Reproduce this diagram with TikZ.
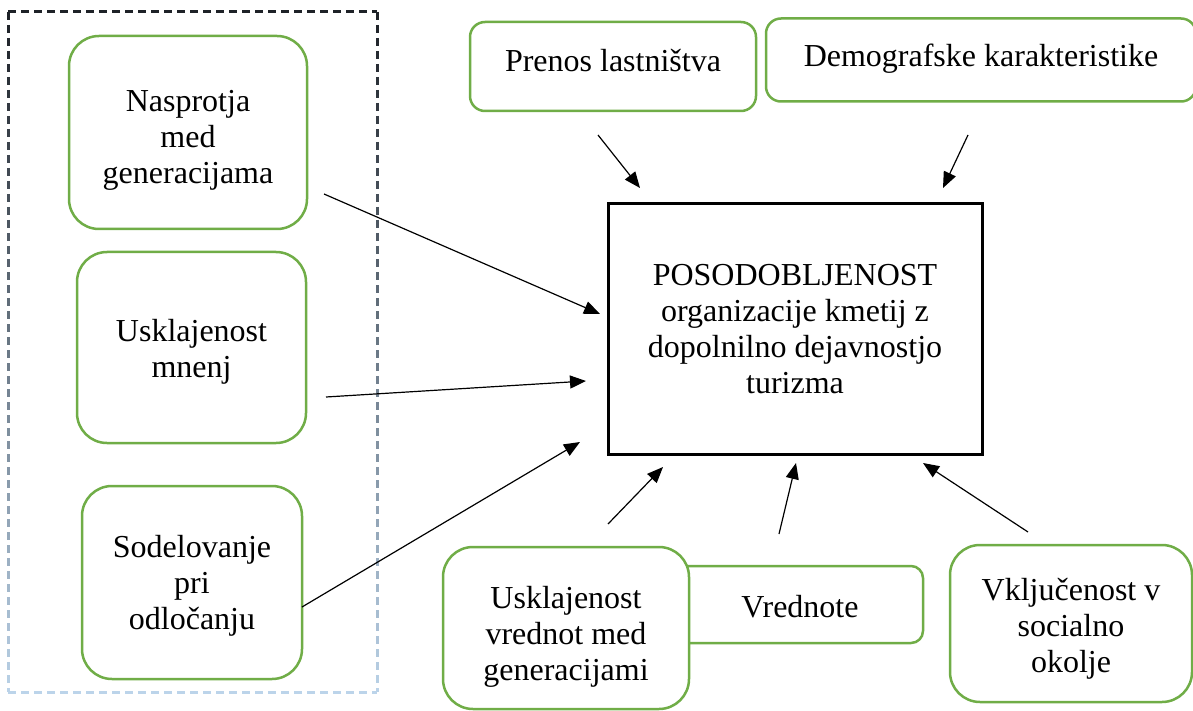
\documentclass[tikz,border=0pt]{standalone}
\usepackage{fontspec}
\setmainfont{Liberation Serif}
\usetikzlibrary{arrows.meta}
\definecolor{boxgreen}{RGB}{112,173,71}
\definecolor{framedark}{RGB}{30,34,40}
\definecolor{framelight}{RGB}{188,212,234}
\newcommand{\tstrut}[1]{\rule{0pt}{#1}}
\begin{document}
\begin{tikzpicture}[x=1pt,y=-1pt,
  txt/.style={font=\fontsize{32}{36}\selectfont},
  gbox/.style={txt, draw=boxgreen, line width=2.5pt, fill=white, align=center, inner sep=0pt},
  cbox/.style={txt, draw=black, line width=3pt, fill=white, align=center, inner sep=0pt},
  arr/.style={line width=1.2pt, -{Triangle[length=16pt,width=13pt]}},
  frameseg/.style={line width=3pt, line cap=butt}]
\useasboundingbox (0,0) rectangle (1193,711);

% dashed frame with gradient
\draw[frameseg, draw=framedark, dash pattern=on 8pt off 5pt] (8,12) -- (377,12);
\draw[frameseg, draw=framelight, dash pattern=on 8pt off 5pt] (8,692) -- (377,692);
\foreach \i in {0,...,52}{
  \pgfmathsetmacro{\ya}{12+13*\i}
  \pgfmathsetmacro{\yb}{min(\ya+8,692)}
  \pgfmathtruncatemacro{\p}{(\ya-12)/6.8}
  \draw[frameseg, draw=framelight!\p!framedark] (8,\ya) -- (8,\yb);
  \draw[frameseg, draw=framelight!\p!framedark] (377,\ya) -- (377,\yb);
}

% left boxes
\node[gbox, rounded corners=30pt, minimum width=238pt, minimum height=193pt] (nasp) at (188,132.5) {\tstrut{36pt}Nasprotja\\med\\generacijama};
\node[gbox, rounded corners=30pt, minimum width=229pt, minimum height=191pt] (uskm) at (191.5,347.5) {\tstrut{30pt}Usklajenost\\mnenj};
\node[gbox, rounded corners=30pt, minimum width=220pt, minimum height=193pt] (sode) at (192,582.5) {\tstrut{28pt}Sodelovanje\\pri\\odločanju};

% centre
\node[cbox, minimum width=374pt, minimum height=250pt] (pos) at (795,329) {POSODOBLJENOST\\organizacije kmetij z\\dopolnilno dejavnostjo\\turizma};

% top boxes
\node[gbox, rounded corners=15pt, minimum width=286pt, minimum height=89pt, text height=22pt, text depth=11pt] (pren) at (613,66.5) {Prenos lastništva};
\node[gbox, rounded corners=15pt, minimum width=430pt, minimum height=83pt, text height=22pt, text depth=9pt] (demo) at (981,60) {Demografske karakteristike};

% bottom boxes
\node[gbox, rounded corners=12pt, minimum width=246pt, minimum height=77pt, text height=26pt, text depth=0pt] (vred) at (800,604.5) {Vrednote};
\node[gbox, rounded corners=30pt, minimum width=246pt, minimum height=162pt] (uskv) at (566,628) {\tstrut{40pt}Usklajenost\\vrednot med\\generacijami};
\node[gbox, rounded corners=30pt, minimum width=242pt, minimum height=157pt] (vklj) at (1071,623.5) {\tstrut{32pt}Vključenost v\\socialno\\okolje};

% arrow end points
\coordinate (a1s) at (324,194);  \coordinate (a1e) at (600,314);
\coordinate (a2s) at (326,397);  \coordinate (a2e) at (586,381);
\coordinate (a3s) at (302,607);  \coordinate (a3e) at (580,442);
\coordinate (a4s) at (598,135);  \coordinate (a4e) at (640,188);
\coordinate (a5s) at (968,135);  \coordinate (a5e) at (943,188);
\coordinate (a6s) at (608,524);  \coordinate (a6e) at (663,467);
\coordinate (a7s) at (779,534);  \coordinate (a7e) at (796,463);
\coordinate (a8s) at (1028,532); \coordinate (a8e) at (923,463);

\foreach \k in {1,...,8}{\draw[arr] (a\k s) -- (a\k e);}
\end{tikzpicture}
\end{document}
